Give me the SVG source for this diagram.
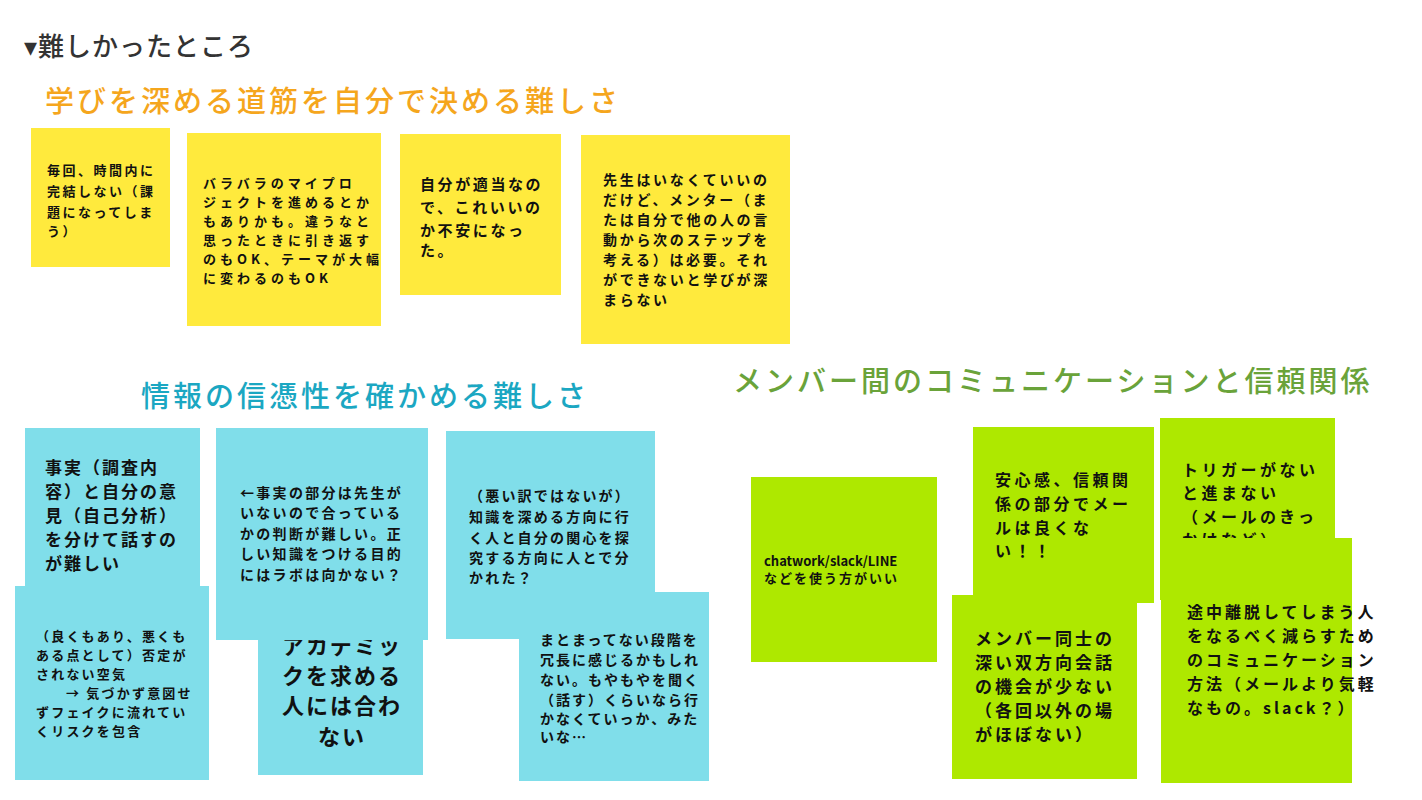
<svg xmlns="http://www.w3.org/2000/svg" width="1422" height="800" viewBox="0 0 1422 800">
<style>
text{font-family:"Noto Sans CJK JP","Noto Sans",sans-serif;font-weight:700;fill:#111}
.y{fill:#ffea3d}.b{fill:#80deea}.g{fill:#aee800}
.h{font-weight:500;font-size:29px;letter-spacing:3px}
</style>
<rect width="1422" height="800" fill="#fff"/>
<text x="24" y="56" style="font-size:26px;font-weight:500;fill:#333;letter-spacing:1px">▾難しかったところ</text>
<text class="h" x="45" y="112" style="fill:#f5a61d">学びを深める道筋を自分で決める難しさ</text>
<text class="h" x="141" y="407" style="fill:#1ba7c2">情報の信憑性を確かめる難しさ</text>
<text class="h" x="733" y="392" style="fill:#6aa33a">メンバー間のコミュニケーションと信頼関係</text>

<g id="y1"><rect class="y" x="31" y="128" width="139" height="139"/>
<text style="font-size:13px;letter-spacing:2.5px"><tspan x="47" y="175">毎回、時間内に</tspan><tspan x="47" y="196">完結しない（課</tspan><tspan x="47" y="217">題になってしま</tspan><tspan x="47" y="236">う）</tspan></text></g>
<g id="y2"><rect class="y" x="187" y="133" width="194" height="193"/>
<text style="font-size:13px;letter-spacing:4px"><tspan x="203" y="188">バラバラのマイプロ</tspan><tspan x="203" y="207">ジェクトを進めるとか</tspan><tspan x="203" y="226">もありかも。違うなと</tspan><tspan x="203" y="245">思ったときに引き返す</tspan><tspan x="203" y="264">のもOK、テーマが大幅</tspan><tspan x="203" y="283">に変わるのもOK</tspan></text></g>
<g id="y3"><rect class="y" x="400" y="134" width="161" height="161"/>
<text style="font-size:15px;letter-spacing:2.6px"><tspan x="420" y="190">自分が適当なの</tspan><tspan x="420" y="213">で、これいいの</tspan><tspan x="420" y="236">か不安になっ</tspan><tspan x="420" y="256">た。</tspan></text></g>
<g id="y4"><rect class="y" x="581" y="135" width="209" height="209"/>
<text style="font-size:14px;letter-spacing:2.7px"><tspan x="603" y="185">先生はいなくていいの</tspan><tspan x="603" y="205">だけど、メンター（ま</tspan><tspan x="603" y="225">たは自分で他の人の言</tspan><tspan x="603" y="245">動から次のステップを</tspan><tspan x="603" y="265">考える）は必要。それ</tspan><tspan x="603" y="285">ができないと学びが深</tspan><tspan x="603" y="305">まらない</tspan></text></g>

<g id="b1"><rect class="b" x="25" y="428" width="175" height="162"/>
<text style="font-size:17px;letter-spacing:2px"><tspan x="45" y="474">事実（調査内</tspan><tspan x="45" y="498">容）と自分の意</tspan><tspan x="45" y="522">見（自己分析）</tspan><tspan x="45" y="546">を分けて話すの</tspan><tspan x="45" y="570">が難しい</tspan></text></g>
<g id="b2"><rect class="b" x="15" y="586" width="194" height="194"/>
<text style="font-size:13px;letter-spacing:2.2px"><tspan x="36" y="641">（良くもあり、悪くも</tspan><tspan x="36" y="660">ある点として）否定が</tspan><tspan x="36" y="679">されない空気</tspan><tspan x="66" y="698">→ 気づかず意図せ</tspan><tspan x="36" y="717">ずフェイクに流れてい</tspan><tspan x="36" y="736">くリスクを包含</tspan></text></g>
<g id="b4"><rect class="b" x="258" y="636" width="165" height="139"/>
<text style="font-size:22px;letter-spacing:2px" text-anchor="middle"><tspan x="342" y="654">アカデミッ</tspan><tspan x="342" y="684">クを求める</tspan><tspan x="342" y="714">人には合わ</tspan><tspan x="342" y="745">ない</tspan></text></g>
<g id="b3"><rect class="b" x="216" y="428" width="212" height="212"/>
<text style="font-size:14px;letter-spacing:2.3px"><tspan x="240" y="498">←事実の部分は先生が</tspan><tspan x="240" y="518">いないので合っている</tspan><tspan x="240" y="539">かの判断が難しい。正</tspan><tspan x="240" y="559">しい知識をつける目的</tspan><tspan x="240" y="580">にはラボは向かない？</tspan></text></g>
<g id="b5"><rect class="b" x="446" y="431" width="209" height="208"/>
<text style="font-size:14px;letter-spacing:2.2px"><tspan x="469" y="501">（悪い訳ではないが）</tspan><tspan x="469" y="522">知識を深める方向に行</tspan><tspan x="469" y="543">く人と自分の関心を探</tspan><tspan x="469" y="563">究する方向に人とで分</tspan><tspan x="469" y="583">かれた？</tspan></text></g>
<g id="b6"><rect class="b" x="519" y="592" width="190" height="189"/>
<text style="font-size:14px;letter-spacing:2px"><tspan x="540" y="645">まとまってない段階を</tspan><tspan x="540" y="665">冗長に感じるかもしれ</tspan><tspan x="540" y="685">ない。もやもやを聞く</tspan><tspan x="540" y="705">（話す）くらいなら行</tspan><tspan x="540" y="724">かなくていっか、みた</tspan><tspan x="540" y="742">いな…</tspan></text></g>

<g id="g1"><rect class="g" x="751" y="477" width="186" height="185"/>
<text style="font-size:13px"><tspan x="764" y="566">chatwork/slack/LINE</tspan><tspan x="764" y="583" style="letter-spacing:2px">などを使う方がいい</tspan></text></g>
<g id="g2"><rect class="g" x="973" y="427" width="181" height="176"/>
<text style="font-size:16px;letter-spacing:3.5px"><tspan x="995" y="486">安心感、信頼関</tspan><tspan x="995" y="510">係の部分でメー</tspan><tspan x="995" y="534">ルは良くな</tspan><tspan x="995" y="557">い！！</tspan></text></g>
<g id="g3"><rect class="g" x="1160" y="418" width="175" height="182"/>
<text style="font-size:16px;letter-spacing:3.5px"><tspan x="1182" y="476">トリガーがない</tspan><tspan x="1182" y="499">と進まない</tspan><tspan x="1182" y="523">（メールのきっ</tspan><tspan x="1182" y="546">かけなど）</tspan></text></g>
<g id="g4"><rect class="g" x="952" y="595" width="185" height="184"/>
<text style="font-size:17px;letter-spacing:3px"><tspan x="975" y="645">メンバー同士の</tspan><tspan x="975" y="669">深い双方向会話</tspan><tspan x="975" y="693">の機会が少ない</tspan><tspan x="975" y="717">（各回以外の場</tspan><tspan x="975" y="741">がほぼない）</tspan></text></g>
<g id="g5"><rect class="g" x="1161" y="538" width="191" height="245"/>
<text style="font-size:16px;letter-spacing:3px"><tspan x="1187" y="618">途中離脱してしまう人</tspan><tspan x="1187" y="642">をなるべく減らすため</tspan><tspan x="1187" y="666">のコミュニケーション</tspan><tspan x="1187" y="690">方法（メールより気軽</tspan><tspan x="1187" y="714">なもの。slack？）</tspan></text></g>
<g id="connectors"/>
</svg>
